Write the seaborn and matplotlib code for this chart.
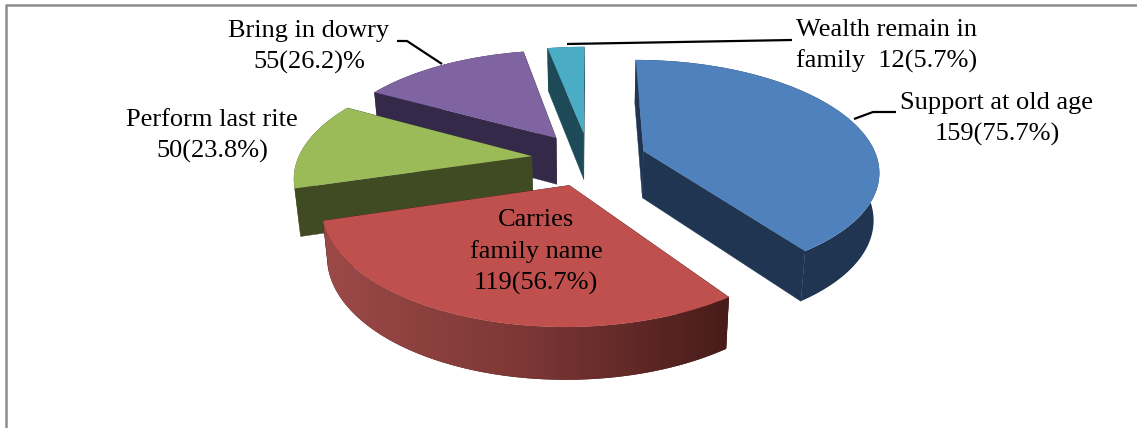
import numpy as np
import matplotlib
matplotlib.use("Agg")
import matplotlib.pyplot as plt
from matplotlib.colors import to_rgb
from matplotlib.patches import Polygon
from matplotlib.transforms import Transform
import seaborn as sns

# Reasons for son preference, number of respondents
categories = ["Support at old age", "Carries family name", "Perform last rite",
              "Bring in dowry", "Wealth remain in family"]
counts = [159, 119, 50, 55, 12]
labels = ["Support at old age\n159(75.7%)", "Carries\nfamily name\n119(56.7%)",
          "Perform last rite\n50(23.8%)", "Bring in dowry\n55(26.2)%",
          "Wealth remain in\nfamily  12(5.7%)"]

top_colors = ["#4f81bd", "#c0504d", "#9bbb59", "#8064a2", "#4bacc6"]
side_colors = ["#1f3552", "#4a1c1b", "#404b24", "#35294a", "#1e4a57"]
red_rim_stops = ["#9c4a48", "#7c3735", "#481c1a"]

# Camera for the tilted pie, in pixels
VANISH_X, VANISH_Y = 589.0, -499.0
RADIUS_PX, SPREAD_PX = 234.0, 658.0
TILT = 0.165
THICKNESS = 47.0
BASE_SHRINK = 0.98


def project(x, y, lower=False):
    """Map a point of the pie plane to the screen, on the top or the base face."""
    w = 1.0 + TILT * y
    sx = RADIUS_PX * x / w
    sy = VANISH_Y + SPREAD_PX / w
    if lower:
        sx = sx * BASE_SHRINK
        sy = sy + THICKNESS / np.sqrt(w)
    return VANISH_X + sx, sy


class PieCamera(Transform):
    input_dims = output_dims = 2
    is_separable = False
    has_inverse = False

    def transform_non_affine(self, values):
        values = np.asarray(values, dtype=float)
        sx, sy = project(values[:, 0], values[:, 1])
        return np.column_stack([sx, sy])


sns.set_theme(style="white")
plt.rcParams["font.family"] = ["Liberation Serif", "DejaVu Serif"]

fig = plt.figure(figsize=(11.37, 4.28), dpi=100, facecolor="white")
ax = fig.add_axes([0, 0, 1, 1])

wedges, _ = ax.pie(counts, explode=[0.247] * len(counts), startangle=90,
                   counterclock=False, colors=top_colors, radius=1.0,
                   wedgeprops={"linewidth": 0})

# Back slices first so the nearer ones overlap them
stack_order = {4: 2, 3: 4, 2: 6, 0: 8, 1: 10}


def outline(xs, ys, lower_xs, lower_ys):
    return np.column_stack([np.r_[xs, lower_xs[::-1]], np.r_[ys, lower_ys[::-1]]])


camera = PieCamera()
for i, wedge in enumerate(wedges):
    z = stack_order[i]
    wedge.set_transform(camera + ax.transData)
    wedge.set_zorder(z + 1)
    cx, cy = wedge.center

    # Flat cut faces running out from the apex
    for a in (wedge.theta1, wedge.theta2):
        ex, ey = cx + np.cos(np.radians(a)), cy + np.sin(np.radians(a))
        tx, ty = project(np.array([cx, ex]), np.array([cy, ey]))
        bx, by = project(np.array([cx, ex]), np.array([cy, ey]), lower=True)
        ax.add_patch(Polygon(outline(tx, ty, bx, by), facecolor=side_colors[i],
                             edgecolor=side_colors[i], linewidth=0.3, zorder=z))

    # Curved rim of the slice
    t = np.radians(np.linspace(wedge.theta1, wedge.theta2, 160))
    rim_x, rim_y = cx + np.cos(t), cy + np.sin(t)
    tx, ty = project(rim_x, rim_y)
    bx, by = project(rim_x, rim_y, lower=True)
    rim = Polygon(outline(tx, ty, bx, by), facecolor=side_colors[i],
                  edgecolor="none", zorder=z)
    ax.add_patch(rim)
    if i == 1:
        # The red rim darkens steadily from left to right
        stops = np.array([to_rgb(c) for c in red_rim_stops])
        frac = np.linspace(0, 1, 256)
        ramp = np.column_stack([np.interp(frac, [0, 0.5, 1], stops[:, c]) for c in range(3)])
        shade = ax.imshow(ramp[np.newaxis, :, :], aspect="auto", interpolation="bilinear",
                          extent=[tx.min(), tx.max(), by.max(), ty.min()], zorder=z + 0.5)
        shade.set_clip_path(rim)

ax.set_aspect("auto")
ax.set_xlim(0, 1137)
ax.set_ylim(428, 0)
ax.axis("off")

# Leader lines from the outer labels to their slices
leader_kw = {"color": "black", "lw": 1.6, "zorder": 20, "solid_capstyle": "butt"}
ax.plot([854, 873, 896], [119, 112, 112], **leader_kw)
ax.plot([567, 792], [44, 40], **leader_kw)
ax.plot([397, 407, 442], [41, 41, 64], **leader_kw)

text_kw = {"fontsize": 19, "color": "black", "linespacing": 1.48, "zorder": 25}
label_pos = [(997, 119), (536, 252), (212, 136), (309, 47), (796, 46)]
for i, (txt, (px, py)) in enumerate(zip(labels, label_pos)):
    ax.text(px, py, txt, ha="left" if i == 4 else "center", va="center", **text_kw)

# Thin grey outline of the chart area
border_kw = {"color": "#8c8c8c", "lw": 1.8, "zorder": 30, "solid_capstyle": "butt"}
ax.plot([6.4, 6.4, 1137], [428, 5.2, 5.2], **border_kw)

fig.savefig("out.png", dpi=100, facecolor="white")
